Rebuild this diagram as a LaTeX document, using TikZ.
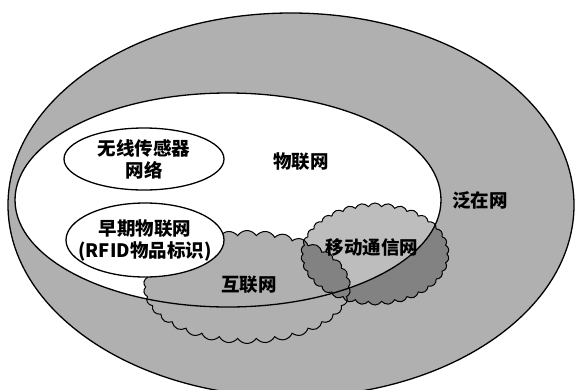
\documentclass[tikz,border=0pt]{standalone}
\usepackage{fontspec}
\newfontfamily\cjk{Noto Sans CJK SC}
\usetikzlibrary{shapes.geometric,shapes.symbols}
\definecolor{netgray}{RGB}{176,176,176}
\tikzset{
  x=1pt, y=-1pt,
  border/.style={draw=black, line width=1.3pt},
  oval/.style={ellipse, inner sep=0pt, outer sep=0pt},
  puff/.style={cloud, cloud puffs=34, cloud puff arc=115, inner sep=0pt, outer sep=0pt, border, line width=1pt},
  lbl/.style={font=\cjk\bfseries\fontsize{18.5}{22}\selectfont, align=center, inner sep=0pt}
}
\begin{document}
\begin{tikzpicture}
\useasboundingbox (0,0) rectangle (575,389);
\fill[white] (0,0) rectangle (575,389);
% outer: ubiquitous network
\node[oval, border, fill=netgray, minimum width=566pt, minimum height=384pt] (ubi) at (291,205) {};
% inner: internet of things (white fill)
\node[oval, fill=white, minimum width=426pt, minimum height=214pt] (iot) at (228,200) {};
% internet cloud
\node[puff, fill=netgray, minimum width=207pt, minimum height=113pt] (inet) at (247,287) {};
% mobile communication cloud
\node[puff, fill=black, fill opacity=0.26, draw opacity=1, minimum width=148pt, minimum height=102pt] (mob) at (375,254) {};
% inner ellipse outline on top
\node[oval, border, minimum width=426pt, minimum height=214pt] (iotline) at (iot.center) {};
% small ellipses
\node[oval, border, fill=white, minimum width=160pt, minimum height=62pt] (wsn) at (144,159) {};
\node[oval, border, fill=white, minimum width=158pt, minimum height=74pt] (rfid) at (145,240) {};
% labels
\node[lbl] (twsn) at (wsn.center) {无线传感器\\网络};
\node[lbl] (trfid) at (rfid.center) {早期物联网\\(RFID物品标识)};
\node[lbl] (tiot) at (301,162) {物联网};
\node[lbl] (tubi) at (480,200) {泛在网};
\node[lbl] (tmob) at (372,247) {移动通信网};
\node[lbl] (tinet) at (249,285) {互联网};
\end{tikzpicture}
\end{document}
